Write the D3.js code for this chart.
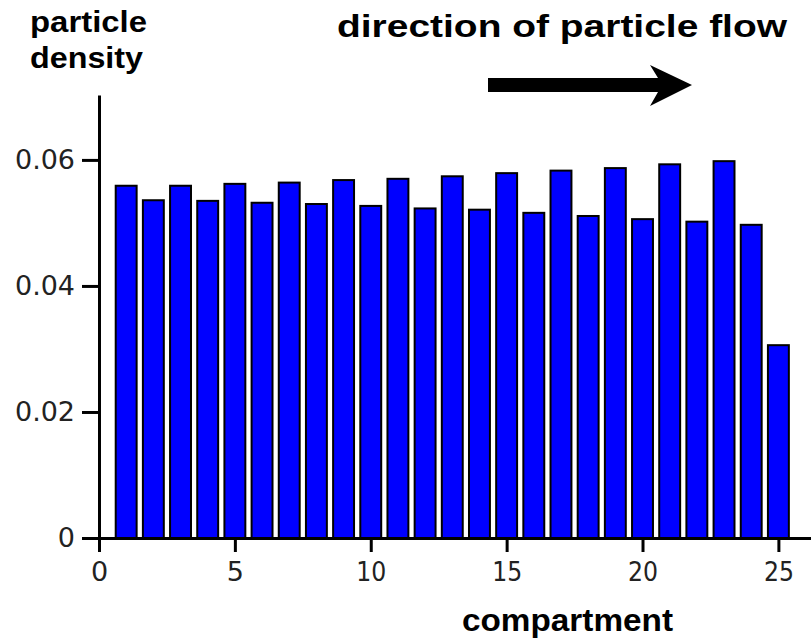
<!DOCTYPE html>
<html>
<head>
<meta charset="utf-8">
<script src="https://cdn.jsdelivr.net/npm/d3@7"></script>
<style>
  body { margin: 0; background: #fff; }
  .axis path, .axis line { stroke: #000; stroke-width: 3; }
  .label { font-family: "Liberation Sans", Arial, sans-serif; font-weight: bold; fill: #000; }
</style>
</head>
<body>
<div class="js-canvas"></div>
<script>
'use strict';

// compartments 1..25
const compartments = d3.range(1, 26);
const density = [
    0.0559, 0.0536, 0.0559, 0.0535, 0.0562, 0.0532, 0.0564, 0.0530, 0.0568, 0.0527,
    0.0570, 0.0523, 0.0574, 0.0521, 0.0579, 0.0516, 0.0583, 0.0511, 0.0587, 0.0506,
    0.0593, 0.0502, 0.0598, 0.0497, 0.0306
];
const xTicks = [0, 5, 10, 15, 20, 25];
const yTicks = [0, 0.02, 0.04, 0.06];

const config = {
    width: 811,
    height: 640,
    originX: 99,
    originY: 538,
    top: 95,
    barWidth: 0.77,
    tickFont: 'DejaVu Sans, sans-serif',
    tickSize: 27
};

const data = compartments.map((c, i) => ({ c, value: density[i] }));

const svg = d3.select('.js-canvas')
    .append('svg')
    .attr('width', config.width)
    .attr('height', config.height);

const x = d3.scaleLinear()
    .domain([0, 26.2])
    .range([config.originX, config.width]);

const y = d3.scaleLinear()
    .domain([0, 0.0703])
    .range([config.originY, config.top]);

const bw = x(config.barWidth) - x(0);

// bars
svg.append('g')
    .selectAll('rect')
    .data(data)
    .enter()
    .append('rect')
    .attr('x', d => x(d.c) - bw / 2)
    .attr('y', d => y(d.value))
    .attr('width', bw)
    .attr('height', d => y(0) - y(d.value))
    .attr('fill', '#0000ff')
    .attr('stroke', '#000')
    .attr('stroke-width', 2);

// axes
const xAxis = d3.axisBottom(x)
    .tickValues(xTicks)
    .tickFormat(d3.format('d'))
    .tickSizeInner(14)
    .tickSizeOuter(0)
    .tickPadding(10);

const yAxis = d3.axisLeft(y)
    .tickValues(yTicks)
    .tickFormat(d => d === 0 ? '0' : d3.format('.2f')(d))
    .tickSizeInner(17)
    .tickSizeOuter(0)
    .tickPadding(7);

const xAxisGroup = svg.append('g')
    .attr('class', 'axis')
    .attr('transform', `translate(0, ${config.originY})`)
    .call(xAxis);

const yAxisGroup = svg.append('g')
    .attr('class', 'axis')
    .attr('transform', `translate(${config.originX}, 0)`)
    .call(yAxis);

// tick labels: narrow, tall digits like the original plot program
[xAxisGroup, yAxisGroup].forEach(g => {
    g.attr('font-family', config.tickFont).attr('font-size', config.tickSize);
    g.selectAll('.tick text')
        .attr('fill', '#222')
        .attr('textLength', function () { return this.textContent.length > 1 ? this.textContent.length * 15 : null; })
        .attr('lengthAdjust', 'spacingAndGlyphs');
});

// labels (the original lettering is stretched sideways, so fit widths)
svg.append('text')
    .attr('class', 'label')
    .attr('x', 30).attr('y', 32)
    .attr('font-size', 29)
    .attr('textLength', 117).attr('lengthAdjust', 'spacingAndGlyphs')
    .text('particle');

svg.append('text')
    .attr('class', 'label')
    .attr('x', 30).attr('y', 68)
    .attr('font-size', 29)
    .attr('textLength', 113).attr('lengthAdjust', 'spacingAndGlyphs')
    .text('density');

svg.append('text')
    .attr('class', 'label')
    .attr('x', 337).attr('y', 37)
    .attr('font-size', 31)
    .attr('textLength', 450).attr('lengthAdjust', 'spacingAndGlyphs')
    .text('direction of particle flow');

svg.append('text')
    .attr('class', 'label')
    .attr('x', 462).attr('y', 631)
    .attr('font-size', 32)
    .attr('textLength', 211).attr('lengthAdjust', 'spacingAndGlyphs')
    .text('compartment');

// flow arrow
svg.append('path')
    .attr('d', 'M488,78 L658,78 L650,65 L692,85 L650,106 L658,92 L488,92 Z')
    .attr('fill', '#000');
</script>
</body>
</html>
